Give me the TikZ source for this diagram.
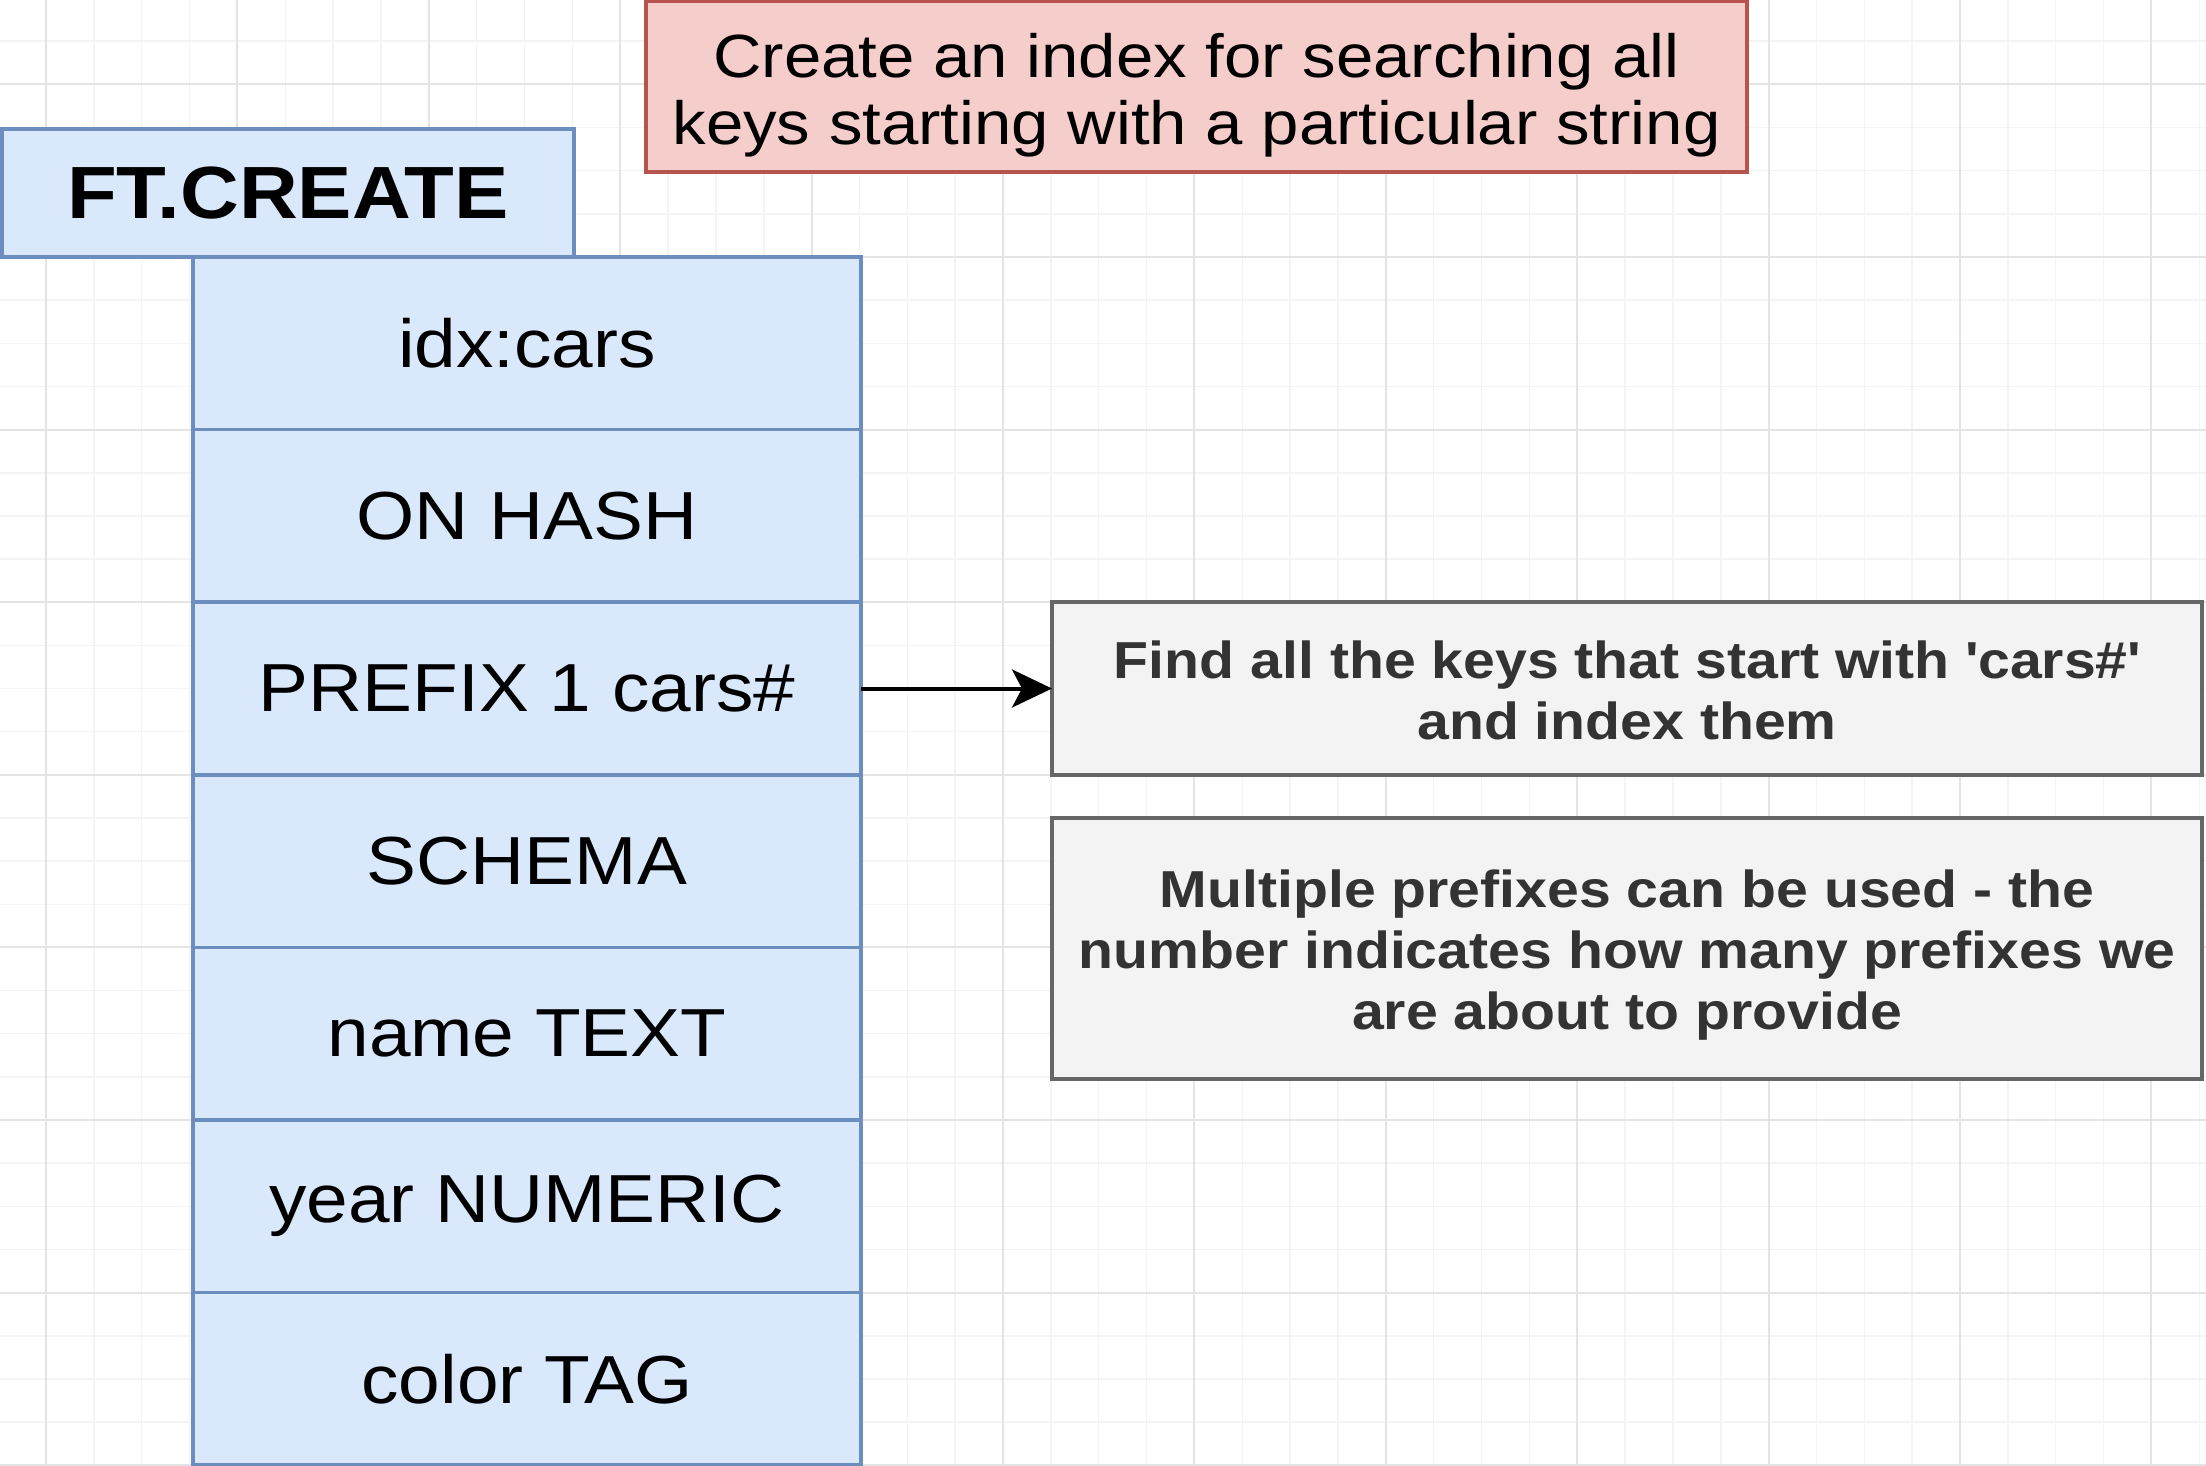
\documentclass[tikz,border=0pt]{standalone}
\usepackage{fontspec}
\setmainfont{Liberation Sans}[FakeStretch=1.1]
\usetikzlibrary{arrows.meta,positioning}

\definecolor{bluefill}{HTML}{DAE8FC}
\definecolor{bluedraw}{HTML}{6C8EBF}
\definecolor{redfill}{HTML}{F5CDCB}
\definecolor{reddraw}{HTML}{B85450}
\definecolor{greyfill}{HTML}{F3F3F3}
\definecolor{greydraw}{HTML}{666666}
\definecolor{greytext}{HTML}{333333}
\definecolor{gridminor}{HTML}{F4F4F4}
\definecolor{gridmajor}{HTML}{E4E4E4}

% centred lines, drawn a little lower than the box would put them
\newcommand\lowlines[2]{\raisebox{#1}[\height][\depth]{\begin{tabular}{@{}c@{}}#2\end{tabular}}}

\begin{document}
\begin{tikzpicture}[
      x=1pt, y=-1pt,
      >={Stealth[length=40pt,width=38pt,inset=10pt]},
      field/.style={rectangle,draw=bluedraw,fill=bluefill,line width=3.5pt,
        minimum width=668pt,minimum height=172.6pt,inner sep=0pt,outer sep=0pt,
        font=\fontsize{68}{80}\selectfont},
      head/.style={rectangle,draw=bluedraw,fill=bluefill,line width=3.5pt,
        minimum width=572pt,minimum height=128pt,inner sep=0pt,outer sep=0pt,
        font=\fontsize{74}{86}\selectfont\bfseries},
      banner/.style={rectangle,draw=reddraw,fill=redfill,line width=3.5pt,
        minimum width=1101pt,minimum height=171pt,inner sep=0pt,outer sep=0pt,
        font=\fontsize{61}{67.5}\selectfont},
      note/.style={rectangle,draw=greydraw,fill=greyfill,line width=4pt,
        minimum width=1150pt,inner sep=0pt,outer sep=0pt,
        text=greytext,font=\fontsize{52}{61}\selectfont\bfseries}
    ]
    \useasboundingbox (0,0) rectangle (2206,1466);

    % Canvas grid
    \foreach \i in {-21,...,25}
      \draw[gridminor,line width=1.5pt] (1003+47.85*\i,0) -- (1003+47.85*\i,1466);
    \foreach \j in {-5,...,28}
      \draw[gridminor,line width=1.5pt] (0,257+43.15*\j) -- (2206,257+43.15*\j);
    \foreach \i in {-20,-16,...,24}
      \draw[gridmajor,line width=2pt] (1003+47.85*\i,0) -- (1003+47.85*\i,1466);
    \foreach \j in {-4,0,...,28}
      \draw[gridmajor,line width=2pt] (0,257+43.15*\j) -- (2206,257+43.15*\j);

    % Command and its arguments
    \node[head] (cmd) at (288,193) {FT.CREATE};
    \node[field] (idx) at (527,343.3) {idx:cars};
    \node[field,below=0pt of idx] (hash) {ON HASH};
    \node[field,below=0pt of hash] (prefix) {PREFIX 1 cars\#};
    \node[field,below=0pt of prefix] (schema) {SCHEMA};
    \node[field,below=0pt of schema] (name) {name TEXT};
    \node[field,below=0pt of name] (year) {year NUMERIC};
    \node[field,below=0pt of year] (color) {color TAG};

    % Notes
    \node[banner] (goal) at (1196.5,86.5)
      {\lowlines{-11pt}{Create an index for searching all\\keys starting with a particular string}};
    \node[note,minimum height=173pt,right=191pt of prefix] (find)
      {\lowlines{-8pt}{Find all the keys that start with \textquotesingle cars\#\textquotesingle\\and index them}};
    \node[note,minimum height=261pt,below=43pt of find] (multi)
      {\lowlines{-8pt}{Multiple prefixes can be used - the\\number indicates how many prefixes we\\are about to provide}};

    \draw[->,line width=4pt] (prefix) -- (find);

  \end{tikzpicture}
\end{document}
